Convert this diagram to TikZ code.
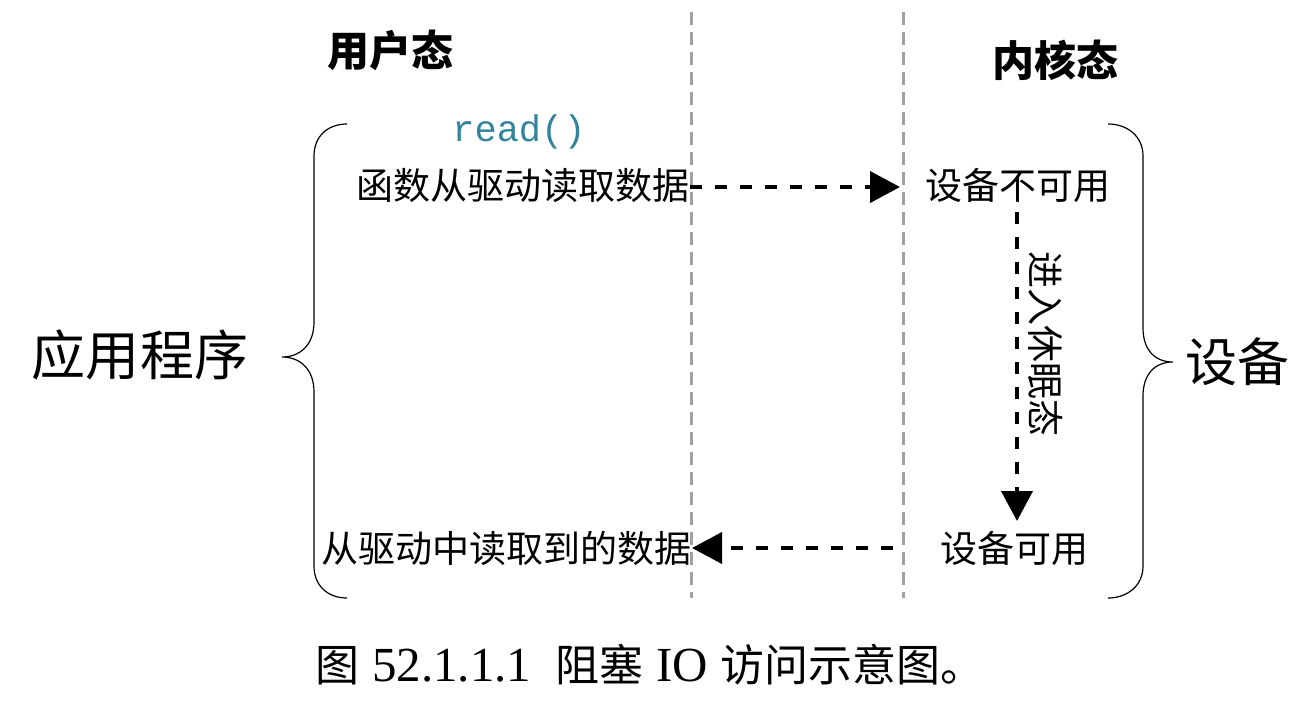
\documentclass[tikz,border=0pt]{standalone}
\usepackage{fontspec}
\setmainfont{Liberation Serif}
\setmonofont{Liberation Mono}
\newfontfamily\cjk{Noto Sans CJK SC}
\usetikzlibrary{arrows.meta}
\definecolor{tealc}{HTML}{31849B}
\definecolor{divgray}{HTML}{A0A0A0}
\tikzset{
  lbl/.style={inner sep=0pt, font=\cjk\fontsize{18.5}{20}\selectfont},
  head/.style={inner sep=0pt, font=\cjk\bfseries\fontsize{21}{23}\selectfont},
  big/.style={inner sep=0pt, font=\cjk\fontsize{27}{30}\selectfont},
  divider/.style={draw=divgray, line width=1.5pt, dash pattern=on 6.5pt off 3.5pt},
  flow/.style={draw=black, line width=2pt, dash pattern=on 6pt off 6.5pt, -{Triangle[length=15pt,width=15.5pt]}},
  brace/.style={draw=black, line width=0.6pt}
}
\newcommand{\capcjk}[1]{{\cjk\fontsize{22}{24}\selectfont #1}}
\begin{document}
\begin{tikzpicture}[x=0.5pt,y=-0.5pt]
\useasboundingbox (0,0) rectangle (1299,702);
% dividers
\coordinate (d1t) at (691,12);
\coordinate (d1b) at (691,598);
\coordinate (d2t) at (903,12);
\coordinate (d2b) at (903,598);
\draw[divider] (d1t) -- (d1b);
\draw[divider] (d2t) -- (d2b);
% headings
\node[head] (user) at (390,50) {用户态};
\node[head] (kern) at (1055,60) {内核态};
% texts
\node[inner sep=0pt, text=tealc, font=\ttfamily\fontsize{18.5}{20}\selectfont] (read) at (519,132) {read()};
\node[lbl] (fn) at (523,186) {函数从驱动读取数据};
\node[lbl] (dev1) at (1018,185) {设备不可用};
\node[lbl] (res) at (506,548) {从驱动中读取到的数据};
\node[lbl] (dev2) at (1014,548) {设备可用};
\node[lbl, rotate=-90] (sleep) at (1046,344) {进入休眠态};
\node[big] (app) at (140,355) {应用程序};
\node[big, font=\cjk\fontsize{26}{28}\selectfont] (dev) at (1237,362) {设备};
% arrows
\coordinate (a1e) at (900,187);
\coordinate (a3s) at (893,548);
\coordinate (a3e) at (692,548);
\draw[flow] (fn.east |- a1e) -- (a1e);
\coordinate (a2s) at (1017,212);
\coordinate (a2e) at (1017,521);
\draw[flow] (a2s) -- (a2e);
\draw[flow] (a3s) -- (a3e);
% braces
\draw[brace] (347,124) .. controls (328,124) and (314,136) .. (314,156) -- (314,322)
  .. controls (314,345) and (300,357) .. (282,357)
  .. controls (300,357) and (314,369) .. (314,392) -- (314,566)
  .. controls (314,586) and (328,598) .. (347,598);
\draw[brace] (1108,124) .. controls (1127,124) and (1143,136) .. (1143,156) -- (1143,328)
  .. controls (1143,350) and (1155,362) .. (1173,362)
  .. controls (1155,362) and (1143,374) .. (1143,396) -- (1143,566)
  .. controls (1143,586) and (1127,598) .. (1108,598);
% caption
\node[inner sep=0pt, font=\fontsize{24.5}{26}\selectfont] (cap) at (650,665) {\capcjk{图} 52.1.1.1\ \ \capcjk{阻塞} IO \capcjk{访问示意图。}};
\end{tikzpicture}
\end{document}
